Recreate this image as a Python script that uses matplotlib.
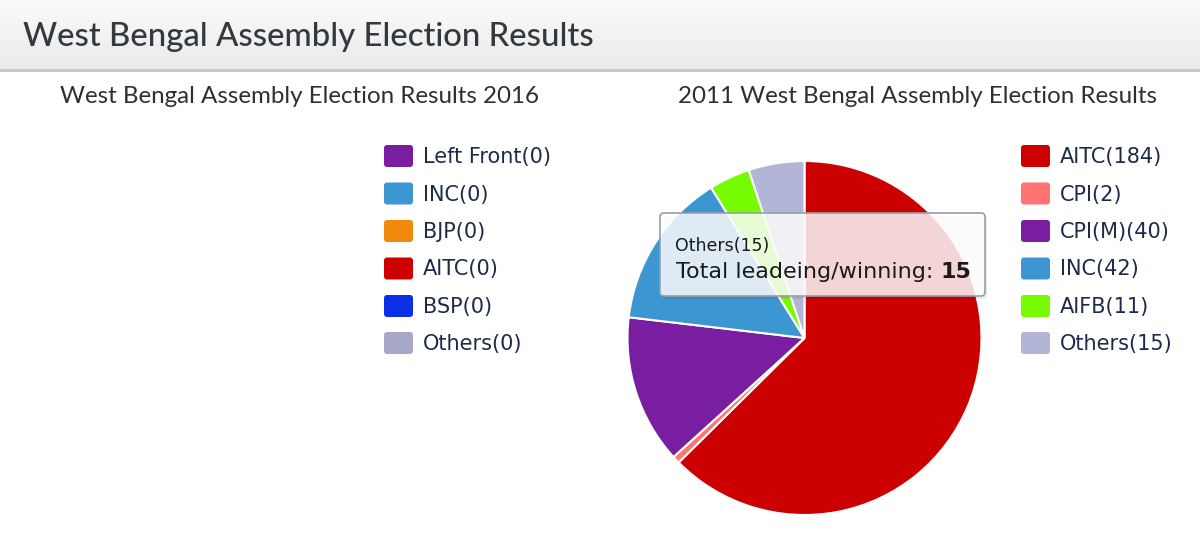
import numpy as np
import matplotlib
matplotlib.use("Agg")
import matplotlib.pyplot as plt
from matplotlib.patches import FancyBboxPatch, Rectangle

# ---------------- data ----------------
page_title = "West Bengal Assembly Election Results"
title_2016 = "West Bengal Assembly Election Results 2016"
title_2011 = "2011 West Bengal Assembly Election Results"

parties_2016 = ["Left Front", "INC", "BJP", "AITC", "BSP", "Others"]
seats_2016 = [0, 0, 0, 0, 0, 0]
colors_2016 = ["#7a1ea1", "#3c96d2", "#f0890c", "#cc0000", "#0b2fe6", "#a7a8c8"]

parties_2011 = ["AITC", "CPI", "CPI(M)", "INC", "AIFB", "Others"]
seats_2011 = [184, 2, 40, 42, 11, 15]
colors_2011 = ["#cc0000", "#ff7373", "#7a1ea1", "#3c96d2", "#77fb00", "#b3b5d6"]

tooltip_party = "Others"
tooltip_value = 15

# ---------------- figure ----------------
W, H = 1200, 550
fig = plt.figure(figsize=(W / 100, H / 100), dpi=100)
fig.patch.set_facecolor("white")

bg = fig.add_axes([0, 0, 1, 1], zorder=0)
bg.set_xlim(0, W)
bg.set_ylim(H, 0)
bg.axis("off")

# header gradient band
grad = np.linspace(0, 1, 100).reshape(-1, 1)
top = np.array([0xfb, 0xfb, 0xfb]) / 255
bot = np.array([0xe8, 0xea, 0xeb]) / 255
img = top + (bot - top) * grad[..., None]
img = np.repeat(img, 2, axis=1)
bg.imshow(img, extent=[0, W, 69, 0], aspect="auto", zorder=0)
bg.add_patch(Rectangle((0, 69), W, 3, facecolor="#c4c8c8", edgecolor="none", zorder=1))
bg.set_xlim(0, W)
bg.set_ylim(H, 0)

title_font = "Lato"
text_font = "DejaVu Sans"

renderer = fig.canvas.get_renderer()


def fit_text(ax, x, y, s, target_w, ha, **kw):
    t = ax.text(x, y, s, ha=ha, **kw)
    fs = t.get_fontsize()
    for _ in range(3):
        w = t.get_window_extent(renderer).width
        fs = fs * target_w / w
        t.set_fontsize(fs)
    return t


fit_text(bg, 23, 46, page_title, 570, "left", va="baseline",
         fontsize=24, family=title_font, fontweight="medium", color="#35383c")
fit_text(bg, 300, 103, title_2016, 481, "center", va="baseline",
         fontsize=15, family=title_font, color="#2f2f2f")
fit_text(bg, 917, 103, title_2011, 480, "center", va="baseline",
         fontsize=15, family=title_font, color="#2f2f2f")

# legends
row_y = [156, 193.5, 231, 268.5, 306, 343]
legend_color = "#1d2b49"


def draw_legend(x_box, x_text, labels, values, colors):
    for yy, lab, val, col in zip(row_y, labels, values, colors):
        bg.add_patch(FancyBboxPatch((x_box + 2, yy - 9), 25, 18,
                                    boxstyle="round,pad=2,rounding_size=3",
                                    facecolor=col, edgecolor="none", zorder=2))
        bg.text(x_text, yy + 1, f"{lab}({val})", ha="left", va="center",
                fontsize=15, family=text_font, color=legend_color)


draw_legend(384, 423, parties_2016, seats_2016, colors_2016)
draw_legend(1021, 1060, parties_2011, seats_2011, colors_2011)

# pie (2011)
cx, cy, r = 804.5, 338, 177
pax = fig.add_axes([(cx - r) / W, (H - cy - r) / H, 2 * r / W, 2 * r / H], zorder=1)
pax.pie(seats_2011, colors=colors_2011, startangle=90, counterclock=False,
        radius=1.0, wedgeprops=dict(edgecolor="white", linewidth=1.5))
pax.set_xlim(-1, 1)
pax.set_ylim(-1, 1)
pax.set_aspect("equal")
pax.axis("off")

# tooltip overlay
tax = fig.add_axes([0, 0, 1, 1], zorder=3)
tax.set_xlim(0, W)
tax.set_ylim(H, 0)
tax.axis("off")
tax.patch.set_alpha(0)
tax.add_patch(FancyBboxPatch((663, 216), 324, 83, boxstyle="round,pad=0,rounding_size=4",
                             facecolor="black", alpha=0.08, edgecolor="none", zorder=1))
tax.add_patch(FancyBboxPatch((660, 213), 325, 83, boxstyle="round,pad=0,rounding_size=4",
                             facecolor=(1, 1, 1, 0.84), edgecolor="#9a9ea6", linewidth=1.2, zorder=2))
tax.text(675, 246, f"{tooltip_party}({tooltip_value})", ha="left", va="center",
         fontsize=12.5, family=text_font, color="#1a1a1a", zorder=3)
t1 = tax.text(676, 272, "Total leadeing/winning: ", ha="left", va="center",
              fontsize=16, family=text_font, color="#1a1a1a", zorder=3)
w1 = t1.get_window_extent(renderer).width
tax.text(676 + w1, 272, f"{tooltip_value}", ha="left", va="center",
         fontsize=16, family=text_font, fontweight="bold", color="#1a1a1a", zorder=3)

fig.savefig("out.png", dpi=100)
